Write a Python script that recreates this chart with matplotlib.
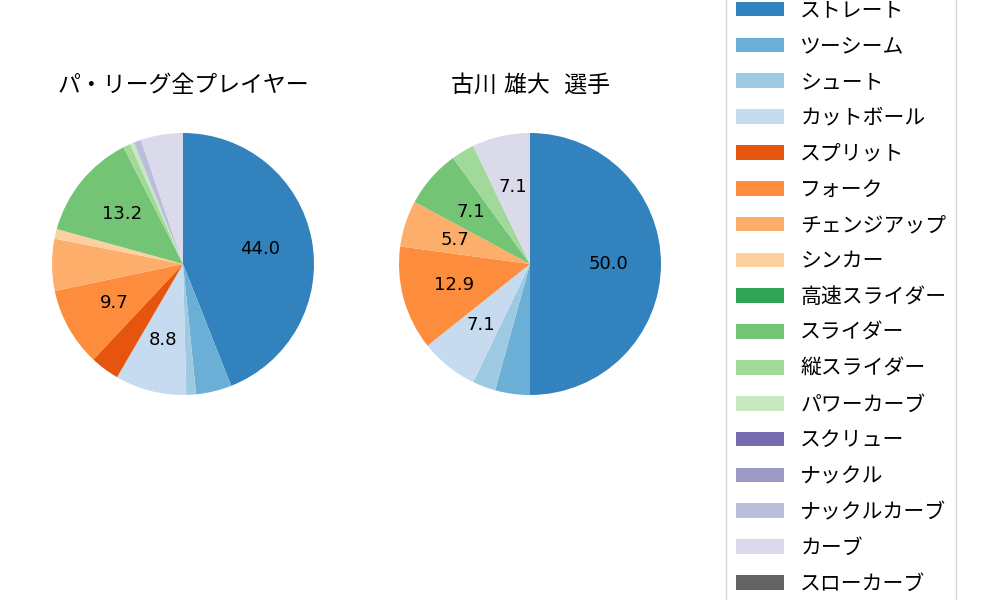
import numpy as np
import matplotlib
matplotlib.use('Agg')
import matplotlib.pyplot as plt

plt.rcParams['font.family'] = ['DejaVu Sans', 'Noto Sans CJK JP']
plt.rcParams['font.size'] = 13

pitch_types = ['ストレート', 'ツーシーム', 'シュート', 'カットボール', 'スプリット',
               'フォーク', 'チェンジアップ', 'シンカー', '高速スライダー', 'スライダー',
               '縦スライダー', 'パワーカーブ', 'スクリュー', 'ナックル', 'ナックルカーブ',
               'カーブ', 'スローカーブ']

# league-wide share (%)
league_pct = [44.0, 4.4, 1.2, 8.8, 3.6, 9.7, 6.4, 1.2, 0.0, 13.2,
              0.9, 0.5, 0.0, 0.0, 0.9, 5.2, 0.0]
# pitcher's pitch counts
player_cnt = [35, 3, 2, 5, 0, 9, 4, 0, 0, 5,
              2, 0, 0, 0, 0, 5, 0]

titles = ['パ・リーグ全プレイヤー', '古川 雄大  選手']

colors = list(plt.get_cmap('tab20c').colors[:17])


def make_autopct(min_pct):
    def fmt(p):
        return '%.1f' % p if p >= min_pct else ''
    return fmt


fig = plt.figure(figsize=(10, 6), dpi=100)

r_px = 131
side = 2.5 * r_px
centers = [(183, 264), (530, 264)]
data = [league_pct, player_cnt]
mins = [7.0, 5.0]

wedges_first = None
for (cx, cy), vals, title, mn in zip(centers, data, titles, mins):
    ax = fig.add_axes([(cx - side / 2) / 1000, (600 - cy - side / 2) / 600,
                       side / 1000, side / 600])
    wedges, texts, autotexts = ax.pie(vals, colors=colors, startangle=90,
                                      counterclock=False, autopct=make_autopct(mn),
                                      pctdistance=0.6, textprops={'fontsize': 13})
    ax.set_title(title, fontsize=16.5)
    if wedges_first is None:
        wedges_first = wedges

fig.legend(wedges_first, pitch_types, loc='center left',
           bbox_to_anchor=(0.716, 0.505), fontsize=15,
           handlelength=2.3, handleheight=0.7, handletextpad=0.8,
           labelspacing=0.76, borderpad=0.45)

fig.savefig('out.png', dpi=100)
